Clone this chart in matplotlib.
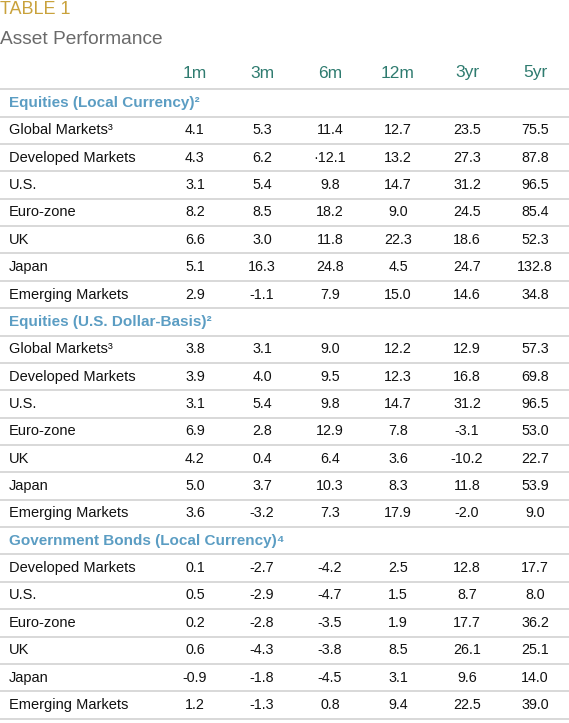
import matplotlib.pyplot as plt

plt.rcParams['font.family'] = ['Liberation Sans', 'DejaVu Sans']

columns = ['1m', '3m', '6m', '12m', '3yr', '5yr']

sections = ['Equities (Local Currency)²',
            'Equities (U.S. Dollar-Basis)²',
            'Government Bonds (Local Currency)⁴']

eq_local_rows = ['Global Markets³', 'Developed Markets', 'U.S.', 'Euro-zone', 'UK', 'Japan', 'Emerging Markets']
eq_local = [
    ['4.1', '5.3', '11.4', '12.7', '23.5', '75.5'],
    ['4.3', '6.2', '·12.1', '13.2', '27.3', '87.8'],
    ['3.1', '5.4', '9.8', '14.7', '31.2', '96.5'],
    ['8.2', '8.5', '18.2', '9.0', '24.5', '85.4'],
    ['6.6', '3.0', '11.8', '22.3', '18.6', '52.3'],
    ['5.1', '16.3', '24.8', '4.5', '24.7', '132.8'],
    ['2.9', '-1.1', '7.9', '15.0', '14.6', '34.8'],
]

eq_usd_rows = ['Global Markets³', 'Developed Markets', 'U.S.', 'Euro-zone', 'UK', 'Japan', 'Emerging Markets']
eq_usd = [
    ['3.8', '3.1', '9.0', '12.2', '12.9', '57.3'],
    ['3.9', '4.0', '9.5', '12.3', '16.8', '69.8'],
    ['3.1', '5.4', '9.8', '14.7', '31.2', '96.5'],
    ['6.9', '2.8', '12.9', '7.8', '-3.1', '53.0'],
    ['4.2', '0.4', '6.4', '3.6', '-10.2', '22.7'],
    ['5.0', '3.7', '10.3', '8.3', '11.8', '53.9'],
    ['3.6', '-3.2', '7.3', '17.9', '-2.0', '9.0'],
]

bonds_rows = ['Developed Markets', 'U.S.', 'Euro-zone', 'UK', 'Japan', 'Emerging Markets']
bonds = [
    ['0.1', '-2.7', '-4.2', '2.5', '12.8', '17.7'],
    ['0.5', '-2.9', '-4.7', '1.5', '8.7', '8.0'],
    ['0.2', '-2.8', '-3.5', '1.9', '17.7', '36.2'],
    ['0.6', '-4.3', '-3.8', '8.5', '26.1', '25.1'],
    ['-0.9', '-1.8', '-4.5', '3.1', '9.6', '14.0'],
    ['1.2', '-1.3', '0.8', '9.4', '22.5', '39.0'],
]

W, H = 569, 723
fig = plt.figure(figsize=(W / 100, H / 100), dpi=100)
ax = fig.add_axes([0, 0, 1, 1])
ax.set_xlim(0, W)
ax.set_ylim(H, 0)
ax.axis('off')

gold = '#c9a23c'
grey_title = '#6a6a6a'
teal = '#2e7b6f'
blue = '#5b9dc3'
ink = '#111111'
rule = '#d2d2d2'

col_x = [195, 262, 330, 398, 467, 535]
label_x = 9
row_h = 27.36
first_y = 103

ax.text(0, 9, 'TABLE 1', color=gold, fontsize=13, va='center', ha='left')
ax.text(0, 39, 'Asset Performance', color=grey_title, fontsize=13.8, va='center', ha='left')

for cx, c in zip(col_x, columns):
    ax.text(cx, 73, c, color=teal, fontsize=12.5, ha='center', va='center')

blocks = [(sections[0], eq_local_rows, eq_local),
          (sections[1], eq_usd_rows, eq_usd),
          (sections[2], bonds_rows, bonds)]

i = 0
ax.axhline(first_y - row_h / 2, color=rule, lw=1.2)
for title, names, vals in blocks:
    y = first_y + i * row_h
    ax.text(label_x, y, title, color=blue, fontsize=11, fontweight='bold', ha='left', va='center')
    ax.axhline(y + row_h / 2, color=rule, lw=1.2)
    i += 1
    for name, row in zip(names, vals):
        y = first_y + i * row_h
        ax.text(label_x, y, name, color=ink, fontsize=10.5, ha='left', va='center')
        for cx, v in zip(col_x, row):
            ax.text(cx, y, v, color=ink, fontsize=10.3, ha='center', va='center')
        ax.axhline(y + row_h / 2, color=rule, lw=1.2)
        i += 1

fig.savefig('out.png', dpi=100)
